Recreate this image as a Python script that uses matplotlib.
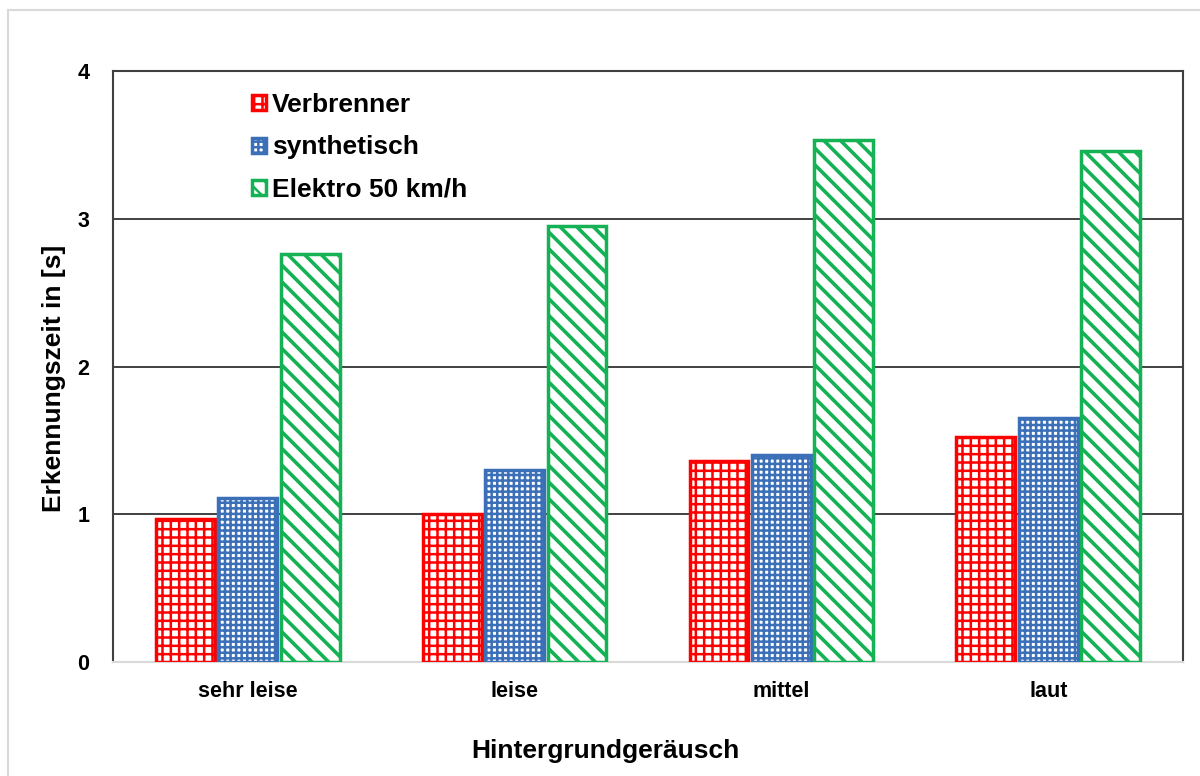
import numpy as np
import matplotlib.pyplot as plt
from matplotlib.patches import Rectangle

categories = ["sehr leise", "leise", "mittel", "laut"]
series_names = ["Verbrenner", "synthetisch", "Elektro 50 km/h"]
verbrenner = [0.97, 1.00, 1.36, 1.52]
synthetisch = [1.11, 1.30, 1.40, 1.65]
elektro = [2.76, 2.95, 3.53, 3.46]

colors = ["#ff0000", "#3b70b8", "#14b254"]
hatches = ["++", "+++", "\\\\"]
hatch_widths = [1.8, 1.8, 2.6]

plt.rcParams['font.family'] = ['Liberation Sans', 'DejaVu Sans']
plt.rcParams['font.weight'] = 'bold'
plt.rcParams['hatch.linewidth'] = 1.8

fig = plt.figure(figsize=(12, 7.76), dpi=100)
ax = fig.add_axes([0.0942, 0.1469, 0.8916, 0.7616])

# light frame round the chart area (left and top only visible)
fig.patches.append(Rectangle((0.007, -0.05), 1.1, 1.037, transform=fig.transFigure,
                             fill=False, edgecolor="#d9d9d9", linewidth=1.5))

x = np.arange(len(categories))
width = 0.22
step = 0.234
for i, (vals, name) in enumerate(zip([verbrenner, synthetisch, elektro], series_names)):
    bars = ax.bar(x + (i - 1) * step, vals, width, facecolor="white", edgecolor=colors[i],
                  hatch=hatches[i], linewidth=2.5, label=name, zorder=3)
    for b in bars:
        try:
            b.set_hatch_linewidth(hatch_widths[i])
        except AttributeError:
            pass

ax.set_xlim(-0.505, 3.505)
ax.set_ylim(0, 4)
ax.set_yticks([0, 1, 2, 3, 4])
ax.set_xticks(x)
ax.set_xticklabels(categories)
ax.tick_params(axis='both', length=0, labelsize=15.5)
ax.tick_params(axis='y', pad=17)
ax.tick_params(axis='x', pad=14)
ax.yaxis.grid(True, color="#333333", linewidth=1.3, zorder=0)
ax.set_axisbelow(True)

for s in ["left", "top", "right"]:
    ax.spines[s].set_color("#404040")
    ax.spines[s].set_linewidth(1.5)
ax.spines["bottom"].set_color("#d9d9d9")
ax.spines["bottom"].set_linewidth(1.5)

ax.set_xlabel("Hintergrundgeräusch", fontsize=19, fontweight='bold', labelpad=26, x=0.46)
ax.set_ylabel("Erkennungszeit in [s]", fontsize=19, fontweight='bold', labelpad=8, y=0.48)

ax.legend(loc="upper left", bbox_to_anchor=(0.108, 1.003), frameon=False,
          fontsize=19, handlelength=0.5, handleheight=0.5, handletextpad=0.25,
          labelspacing=0.7)

fig.savefig("out.png", dpi=100)
